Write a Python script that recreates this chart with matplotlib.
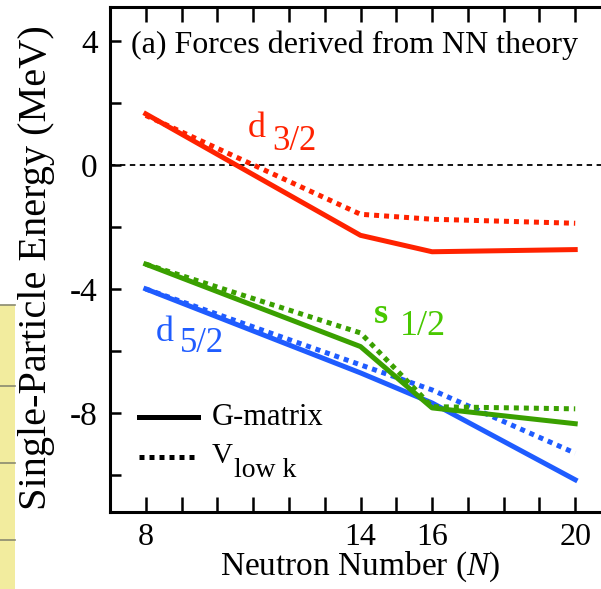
import matplotlib
matplotlib.use("Agg")
import matplotlib.pyplot as plt
from matplotlib.patches import Rectangle
from matplotlib.lines import Line2D
from matplotlib.ticker import FixedLocator, MultipleLocator

plt.rcParams["font.family"] = ["Liberation Serif", "DejaVu Serif"]
plt.rcParams["mathtext.fontset"] = "custom"
plt.rcParams["mathtext.rm"] = "Liberation Serif"
plt.rcParams["mathtext.it"] = "Liberation Serif:italic"

# Neutron numbers and single-particle energies (MeV)
N_vals = [8, 14, 16, 20]
d32_gmatrix = [1.65, -2.27, -2.80, -2.73]
d32_vlowk = [1.60, -1.59, -1.75, -1.88]
s12_gmatrix = [-3.20, -5.86, -7.84, -8.35]
s12_vlowk = [-3.20, -5.42, -7.80, -7.87]
d52_gmatrix = [-4.00, -6.71, -7.68, -10.16]
d52_vlowk = [-4.00, -6.45, -7.26, -9.30]

x_major = [8, 14, 16, 20]
y_major = [4, 0, -4, -8]

RED = "#ff2200"
GREEN = "#3aa000"
GREEN_TXT = "#48c800"
BLUE = "#1f5cff"

W, H = 601, 589
fig = plt.figure(figsize=(W / 100, H / 100), dpi=100)

# strip of a neighbouring table on the left edge
fig.patches.append(Rectangle((0, 0), 15 / W, 1 - 305 / H, transform=fig.transFigure,
                             facecolor="#f2ec9e", edgecolor="none", zorder=0))
for yy in [305, 386, 463, 540]:
    fig.lines.append(Line2D([0, 15 / W], [1 - yy / H] * 2, transform=fig.transFigure,
                            color="#8a8a70", lw=1.2))

left, right = 110 / W, 611 / W
top, bottom = 1 - 7 / H, 1 - 512 / H
ax = fig.add_axes([left, bottom, right - left, top - bottom])
ax.set_xlim(7, 21)
ax.set_ylim(-11.2, 5.1)

lw = 3.6
dot = dict(lw=lw, linestyle=(0, (1, 1)), dash_capstyle="butt")
ax.plot(N_vals, d32_vlowk, color=RED, **dot, zorder=3)
ax.plot(N_vals, d32_gmatrix, color=RED, lw=lw, zorder=3)
ax.plot(N_vals, d52_vlowk, color=BLUE, **dot, zorder=3)
ax.plot(N_vals, d52_gmatrix, color=BLUE, lw=lw, zorder=3)
ax.plot(N_vals, s12_vlowk, color=GREEN, **dot, zorder=4)
ax.plot(N_vals, s12_gmatrix, color=GREEN, lw=lw, zorder=4)

ax.axhline(0, color="black", lw=1.3, linestyle=(0, (3, 2.5)), zorder=2)

for side in ["left", "bottom", "top"]:
    ax.spines[side].set_linewidth(2.2)
ax.spines["right"].set_visible(False)

ax.xaxis.set_major_locator(FixedLocator(x_major))
ax.xaxis.set_minor_locator(MultipleLocator(1))
ax.yaxis.set_major_locator(FixedLocator(y_major))
ax.yaxis.set_minor_locator(MultipleLocator(2))
ax.tick_params(axis="both", which="both", direction="in", width=1.8, top=True, right=False)
ax.tick_params(axis="x", which="both", length=11, labelsize=23, pad=8)
ax.tick_params(axis="x", which="minor", top=True)
ax.tick_params(axis="y", which="both", length=8, labelsize=24, pad=9)
ax.set_yticklabels([str(v) for v in y_major])

ax.set_xlabel(r"Neutron Number ($\mathit{N}$)", fontsize=24, labelpad=-2)
fig.text(37 / W, 1 - 268 / H, "Single-Particle Energy (MeV)", rotation=90,
         fontsize=29, ha="center", va="center")

ax.text(131 / W, 1 - 53 / H, "(a) Forces derived from NN theory", transform=fig.transFigure,
        fontsize=23, ha="left", va="baseline")

# level labels
def level_label(x0, yb, head, sub, color, sub_dx, sub_dy, head_kw=None, hs=26, ss=25):
    ax.text(x0 / W, 1 - yb / H, head, transform=fig.transFigure, color=color,
            fontsize=hs, ha="left", va="baseline", **(head_kw or {}))
    ax.text((x0 + sub_dx) / W, 1 - (yb + sub_dy) / H, sub, transform=fig.transFigure,
            color=color, fontsize=ss, ha="left", va="baseline")

level_label(248, 137, "d", "3/2", RED, 24, 13)
level_label(156, 341, "d", "5/2", BLUE, 24, 11)
level_label(374, 323, "s", "1/2", GREEN_TXT, 26, 12, head_kw=dict(fontweight="bold"), hs=26, ss=26)

# legend
fig.lines.append(Line2D([139 / W, 198 / W], [1 - 417 / H] * 2, transform=fig.transFigure,
                        color="black", lw=lw))
fig.lines.append(Line2D([139 / W, 198 / W], [1 - 457 / H] * 2, transform=fig.transFigure,
                        color="black", **dot))
fig.text(212 / W, 1 - 425 / H, "G-matrix", fontsize=22, ha="left", va="baseline")
fig.text(212 / W, 1 - 463 / H, "V", fontsize=21, ha="left", va="baseline")
fig.text(234 / W, 1 - 477 / H, "low k", fontsize=20, ha="left", va="baseline")

fig.savefig("out.png", dpi=100)
